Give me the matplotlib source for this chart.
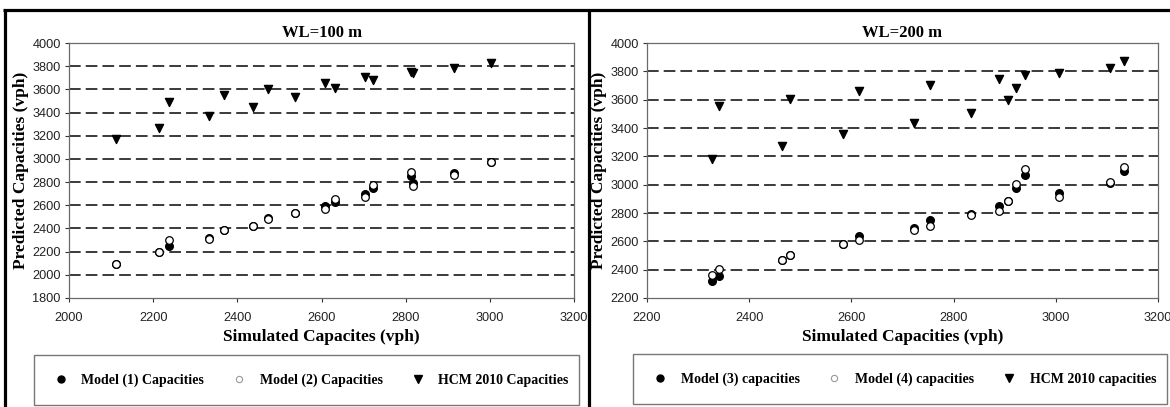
import matplotlib
matplotlib.use("Agg")
import matplotlib.pyplot as plt
from matplotlib.lines import Line2D
from matplotlib.patches import Rectangle

# ---- data: WL = 100 m ----
sim_100 = [2111, 2213, 2237, 2332, 2368, 2437, 2474, 2538, 2608, 2633,
           2704, 2722, 2813, 2817, 2915, 3002]
model1_100 = [2090, 2200, 2250, 2315, 2385, 2423, 2490, 2530, 2593, 2630,
              2697, 2746, 2855, 2791, 2878, 2970]
model2_100 = [2090, 2198, 2299, 2313, 2385, 2423, 2480, 2530, 2565, 2653,
              2668, 2775, 2890, 2763, 2858, 2970]
hcm_100 = [3170, 3270, 3487, 3371, 3549, 3452, 3602, 3533, 3654, 3611,
           3703, 3677, 3748, 3740, 3784, 3827]

# ---- data: WL = 200 m ----
sim_200 = [2327, 2341, 2464, 2480, 2583, 2615, 2723, 2754, 2835, 2888,
           2906, 2923, 2940, 3006, 3106, 3134]
model3_200 = [2318, 2358, 2466, 2505, 2580, 2640, 2694, 2748, 2795, 2847,
              2887, 2976, 3071, 2941, 3015, 3094]
model4_200 = [2365, 2405, 2471, 2506, 2581, 2612, 2678, 2711, 2788, 2812,
              2887, 3005, 3113, 2911, 3016, 3122]
hcm_200 = [3180, 3553, 3271, 3605, 3360, 3664, 3435, 3706, 3506, 3746,
           3595, 3682, 3776, 3788, 3824, 3875]

W, H = 1170, 407
fig = plt.figure(figsize=(W / 100, H / 100), dpi=100)

serif = "Liberation Serif"
sans = "Liberation Sans"


def px_x(x):
    return x / W


def px_y(y):
    return 1 - y / H


def make_panel(left, right, xlim, ylim, title, xs, m_a, m_b, hcm, xlabel, labels, leg_box):
    ax = fig.add_axes([px_x(left), px_y(298), px_x(right - left), (298 - 43) / H])
    ax.set_xlim(*xlim)
    ax.set_ylim(*ylim)
    ax.set_xticks(range(xlim[0], xlim[1] + 1, 200))
    ax.set_yticks(range(ylim[0], ylim[1] + 1, 200))
    for yv in range(ylim[0] + 200, ylim[1], 200):
        ax.axhline(yv, color="#3a3a3a", lw=1.4, ls=(0, (6, 2.6)), zorder=1)
    for s in ax.spines.values():
        s.set_color("#6a6a6a")
        s.set_linewidth(0.9)
    ax.tick_params(axis="both", labelsize=9.2, colors="#333333", length=3,
                   width=0.8, direction="out")
    ax.tick_params(axis="x", pad=7)
    ax.tick_params(axis="y", pad=3)
    for lab in ax.get_xticklabels() + ax.get_yticklabels():
        lab.set_fontfamily(sans)
        lab.set_color("#222222")

    ax.scatter(xs, m_a, s=30, c="black", marker="o", zorder=3)
    ax.scatter(xs, m_b, s=30, facecolors="white", edgecolors="black",
               linewidths=0.9, marker="o", zorder=4)
    ax.scatter(xs, hcm, s=34, c="black", marker="v", zorder=3)

    ax.set_title(title, fontfamily=serif, fontweight="bold", fontsize=12, pad=4)
    ax.set_ylabel("Predicted Capacities (vph)", fontfamily=serif,
                  fontweight="bold", fontsize=12.5, labelpad=2)
    ax.set_xlabel(xlabel, fontfamily=serif, fontweight="bold",
                  fontsize=12.5, labelpad=4)

    # legend box
    x0, y0, x1, y1 = leg_box
    fig.patches.append(Rectangle((px_x(x0), px_y(y1)), px_x(x1 - x0), (y1 - y0) / H,
                                 transform=fig.transFigure, fill=False,
                                 edgecolor="#777777", lw=1.0))
    handles = [
        Line2D([], [], ls="", marker="o", color="black", markersize=5),
        Line2D([], [], ls="", marker="o", markerfacecolor="white",
               markeredgecolor="#999999", markersize=4.5, markeredgewidth=0.8),
        Line2D([], [], ls="", marker="v", color="black", markersize=5.5),
    ]
    fig.legend(handles, labels, loc="center",
               bbox_to_anchor=(px_x((x0 + x1) / 2 + 4), px_y((y0 + y1) / 2)),
               ncol=3, frameon=False, handletextpad=0.9, columnspacing=1.9,
               handlelength=1.2,
               prop={"family": serif, "weight": "bold", "size": 10})
    return ax


make_panel(69, 574, (2000, 3200), (1800, 4000), "WL=100 m",
           sim_100, model1_100, model2_100, hcm_100,
           "Simulated Capacites (vph)",
           ["Model (1) Capacities", "Model (2) Capacities", "HCM 2010 Capacities"],
           (34, 355, 579, 405))
make_panel(647, 1158, (2200, 3200), (2200, 4000), "WL=200 m",
           sim_200, model3_200, model4_200, hcm_200,
           "Simulated Capacities (vph)",
           ["Model (3) capacities", "Model (4) capacities", "HCM 2010 capacities"],
           (633, 354, 1167, 404))

# outer panel borders
border = dict(color="black", lw=2.3, transform=fig.transFigure, solid_capstyle="butt")
fig.add_artist(Line2D([px_x(3), px_x(1170)], [px_y(10), px_y(10)], **border))
fig.add_artist(Line2D([px_x(5), px_x(5)], [px_y(9), px_y(407)], **border))
fig.add_artist(Line2D([px_x(589), px_x(589)], [px_y(9), px_y(407)], **border))

fig.savefig("out.png", dpi=100)
